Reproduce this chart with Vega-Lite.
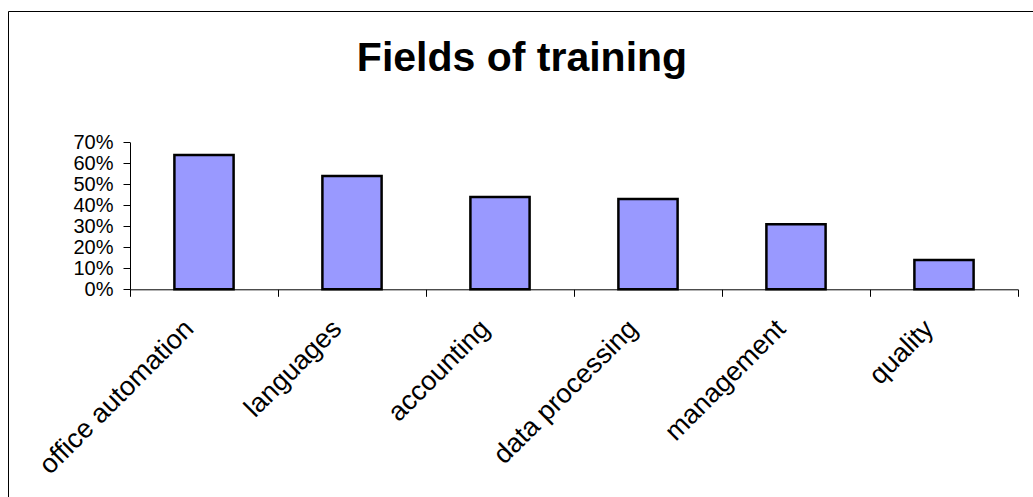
{
  "$schema": "https://vega.github.io/schema/vega-lite/v6.json",
  "width": 1028,
  "height": 600,
  "autosize": {"type": "none"},
  "padding": {"left": 8, "top": 11, "right": 0, "bottom": 0},
  "background": "white",
  "title": {
    "text": "Fields of training",
    "anchor": "middle",
    "frame": "group",
    "offset": -69,
    "fontSize": 41,
    "fontWeight": "bold",
    "font": "Liberation Sans",
    "color": "black"
  },
  "data": {
    "values": [
      {"field": "office automation", "share": 0.64},
      {"field": "languages", "share": 0.54},
      {"field": "accounting", "share": 0.44},
      {"field": "data processing", "share": 0.43},
      {"field": "management", "share": 0.31},
      {"field": "quality", "share": 0.14}
    ]
  },
  "mark": {"type": "bar", "fill": "#9999FF", "stroke": "black", "strokeWidth": 2.5, "width": {"band": 0.4}},
  "encoding": {
    "x": {
      "field": "field",
      "type": "nominal",
      "sort": null,
      "scale": {"range": [122, 1010], "paddingInner": 0, "paddingOuter": 0},
      "axis": {
        "title": null,
        "orient": "bottom",
        "offset": -321.7,
        "tickBand": "extent",
        "tickSize": 7,
        "tickColor": "black",
        "domainColor": "black",
        "labelAngle": -45,
        "labelAlign": "right",
        "labelBaseline": "middle",
        "labelOffset": -15,
        "labelPadding": 28,
        "labelFontSize": 27,
        "labelFont": "Liberation Sans",
        "labelColor": "black",
        "labelOverlap": false,
        "labelLimit": 0
      }
    },
    "y": {
      "field": "share",
      "type": "quantitative",
      "scale": {"domain": [0, 0.7], "range": [278.3, 131.3], "nice": false, "zero": true},
      "axis": {
        "title": null,
        "orient": "left",
        "offset": -122,
        "values": [0, 0.1, 0.2, 0.3, 0.4, 0.5, 0.6, 0.7],
        "format": ".0%",
        "tickSize": 7,
        "tickColor": "black",
        "domainColor": "black",
        "labelPadding": 10,
        "labelFontSize": 20,
        "labelFont": "Liberation Sans",
        "labelColor": "black"
      }
    }
  },
  "config": {
    "view": {"stroke": "black", "strokeWidth": 1},
    "axis": {"grid": false}
  }
}
